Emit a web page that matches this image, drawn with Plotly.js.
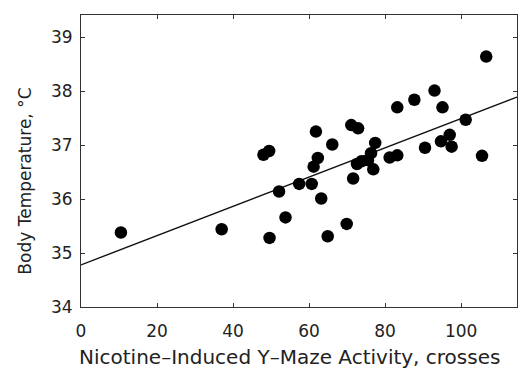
<!DOCTYPE html>
<html>
<head>
<meta charset="utf-8">
<script src="https://cdn.plot.ly/plotly-3.0.1.min.js"></script>
<style>html,body{margin:0;padding:0;background:#fff;}#chart{width:523px;height:371px;}</style>
</head>
<body>
<div id="chart"></div>
<script>
// Nicotine-induced Y-maze activity (crosses)
const activity = [10.5, 37.0, 48.0, 49.5, 49.6, 52.1, 53.8, 57.4, 60.7, 61.2,
  62.3, 61.8, 63.2, 64.9, 66.1, 69.9, 71.1, 72.9, 71.6, 72.6,
  73.8, 75.5, 76.3, 76.9, 77.4, 81.2, 83.2, 83.2, 87.7, 93.0,
  90.5, 94.7, 95.1, 97.0, 97.5, 101.2, 105.5, 106.6];
// Body temperature (°C)
const temperature = [35.38, 35.44, 36.82, 36.89, 35.28, 36.14, 35.66, 36.28, 36.28, 36.60,
  36.76, 37.25, 36.01, 35.31, 37.01, 35.54, 37.37, 37.31, 36.38, 36.65,
  36.70, 36.72, 36.85, 36.55, 37.04, 36.77, 36.81, 37.70, 37.84, 38.01,
  36.95, 37.07, 37.70, 37.19, 36.97, 37.47, 36.80, 38.64];
// Regression line end points
const fitX = [0, 114.7];
const fitY = [34.78, 37.89];

const xTicks = [0, 20, 40, 60, 80, 100];
const yTicks = [34, 35, 36, 37, 38, 39];

const xTitle = 'Nicotine\u2013Induced Y\u2013Maze Activity, crosses';
const yTitle = 'Body Temperature, \u00B0C';

const fam = '"DejaVu Sans", sans-serif';
const font = {family: fam, size: 17, color: '#222'};

const traces = [
  {x: fitX, y: fitY, mode: 'lines', type: 'scatter',
   line: {color: '#111', width: 1.4}, hoverinfo: 'skip'},
  {x: activity, y: temperature, mode: 'markers', type: 'scatter',
   marker: {color: '#000', size: 12.5}}
];

const layout = {
  width: 523, height: 371,
  margin: {l: 81, r: 6, t: 15, b: 64},
  paper_bgcolor: '#fff', plot_bgcolor: '#fff',
  showlegend: false,
  font: font,
  xaxis: {
    range: [0, 114.7], tickvals: xTicks, ticktext: xTicks.map(String),
    ticks: 'inside', ticklen: 4, tickcolor: '#333', tickwidth: 1,
    showline: true, linecolor: '#333', linewidth: 1, mirror: 'ticks',
    showgrid: false, zeroline: false,
    tickfont: font, ticklabelstandoff: 9
  },
  yaxis: {
    range: [34, 39.41], tickvals: yTicks, ticktext: yTicks.map(String),
    ticks: 'inside', ticklen: 4, tickcolor: '#333', tickwidth: 1,
    showline: true, linecolor: '#333', linewidth: 1, mirror: 'ticks',
    showgrid: false, zeroline: false,
    tickfont: font, ticklabelstandoff: 4
  },
  annotations: [
    {text: xTitle, xref: 'paper', yref: 'paper', x: 0.479, y: -0.17,
     xanchor: 'center', yanchor: 'middle', showarrow: false,
     font: {family: fam, size: 20, color: '#222'}},
    {text: yTitle, xref: 'paper', yref: 'paper', x: -0.128, y: 0.43,
     xanchor: 'center', yanchor: 'middle', showarrow: false, textangle: -90,
     font: {family: fam, size: 17, color: '#222'}}
  ]
};

Plotly.newPlot('chart', traces, layout, {staticPlot: true, displayModeBar: false});
</script>
</body>
</html>
